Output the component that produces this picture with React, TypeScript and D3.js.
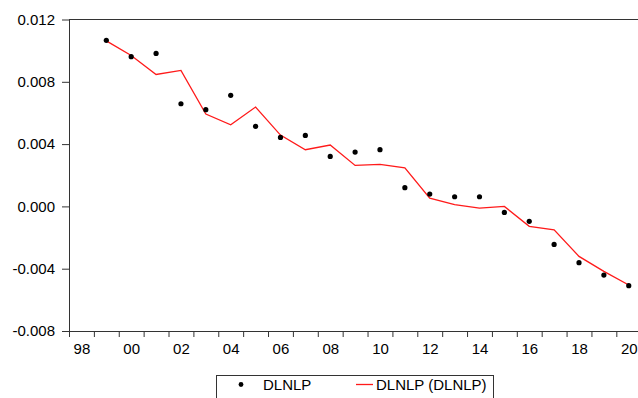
import { useEffect, useRef } from 'react'
import * as d3 from 'd3'

const years = d3.range(1999, 2021)
const actual = [
  0.01066, 0.00961, 0.00982, 0.00659, 0.00621, 0.00713, 0.00514, 0.00443, 0.00456, 0.00321, 0.00349,
  0.00364, 0.0012, 0.00079, 0.00062, 0.00062, -0.00039, -0.00096, -0.00244, -0.00361, -0.00441, -0.00509,
]
const fitted = [
  0.01063, 0.00969, 0.00847, 0.00873, 0.00593, 0.00524, 0.00638, 0.00458, 0.00364, 0.00394, 0.00263,
  0.0027, 0.00248, 0.00053, 0.00011, -0.00011, 0.0, -0.00128, -0.0015, -0.00321, -0.00417, -0.00505,
]
const yTicks = [-0.008, -0.004, 0, 0.004, 0.008, 0.012]
const labelYears = d3.range(1998, 2021, 2)
const legendLabels = ['DLNLP', 'DLNLP (DLNLP)']

export default function App() {
  const ref = useRef<SVGSVGElement | null>(null)

  useEffect(() => {
    if (!ref.current) return
    const width = 638
    const height = 398
    const font = 'Arial, "Liberation Sans", sans-serif'
    const svg = d3.select(ref.current)
    svg.selectAll('*').remove()

    const x = d3.scaleLinear().domain([1998, 2021]).range([69, 641.2])
    const y = d3.scaleLinear().domain([-0.008, 0.012]).range([331, 19.5])

    svg.append('rect').attr('width', width).attr('height', height).attr('fill', '#fff')

    // y axis
    const gy = svg
      .append('g')
      .attr('transform', `translate(${x(1998)},0)`)
      .call(
        d3
          .axisLeft(y)
          .tickValues(yTicks)
          .tickSize(7)
          .tickSizeOuter(0)
          .tickPadding(7)
          .tickFormat((d) => (d as number).toFixed(3))
      )
    gy.selectAll('text').style('font-family', font).style('font-size', '15px').attr('fill', '#000')
    gy.selectAll('line, path').attr('stroke', '#333')

    // x axis ticks (every year)
    const gx = svg
      .append('g')
      .attr('transform', `translate(0,${y(-0.008)})`)
      .call(d3.axisBottom(x).tickValues(d3.range(1998, 2022)).tickSize(6).tickSizeOuter(0).tickFormat(() => ''))
    gx.selectAll('line, path').attr('stroke', '#333')

    // x labels centered on each labelled year
    const gl = svg
      .append('g')
      .attr('transform', `translate(0,${y(-0.008)})`)
      .call(
        d3
          .axisBottom(x)
          .tickValues(labelYears.map((d) => d + 0.5))
          .tickSize(0)
          .tickPadding(12)
          .tickFormat((d) => String(Math.floor(d as number) % 100).padStart(2, '0'))
      )
    gl.select('.domain').remove()
    gl.selectAll('text').style('font-family', font).style('font-size', '15px').attr('fill', '#000')

    // top frame line
    svg
      .append('line')
      .attr('x1', x(1998))
      .attr('x2', x(2021))
      .attr('y1', y(0.012))
      .attr('y2', y(0.012))
      .attr('stroke', '#333')

    const line = d3
      .line<number>()
      .x((_, i) => x(years[i] + 0.5))
      .y((d) => y(d))

    svg
      .append('path')
      .datum(fitted)
      .attr('d', line)
      .attr('fill', 'none')
      .attr('stroke', '#ff1a1a')
      .attr('stroke-width', 1.3)

    svg
      .append('g')
      .selectAll('circle')
      .data(actual)
      .join('circle')
      .attr('cx', (_, i) => x(years[i] + 0.5))
      .attr('cy', (d) => y(d))
      .attr('r', 2.6)
      .attr('fill', '#000')

    // legend
    const lg = svg.append('g')
    lg.append('rect')
      .attr('x', 216.5)
      .attr('y', 375.5)
      .attr('width', 277)
      .attr('height', 40)
      .attr('fill', '#fff')
      .attr('stroke', '#333')
    lg.append('circle').attr('cx', 241).attr('cy', 384.5).attr('r', 2.4).attr('fill', '#000')
    lg.append('text')
      .attr('x', 263)
      .attr('y', 390)
      .style('font-family', font)
      .style('font-size', '15px')
      .text(legendLabels[0])
    lg.append('line')
      .attr('x1', 356)
      .attr('x2', 373)
      .attr('y1', 384.5)
      .attr('y2', 384.5)
      .attr('stroke', '#ff1a1a')
      .attr('stroke-width', 1.3)
    lg.append('text')
      .attr('x', 376)
      .attr('y', 390)
      .style('font-family', font)
      .style('font-size', '15px')
      .text(legendLabels[1])
  }, [])

  return <svg ref={ref} width={638} height={398} style={{ position: 'absolute', left: 0, top: 0 }} />
}
